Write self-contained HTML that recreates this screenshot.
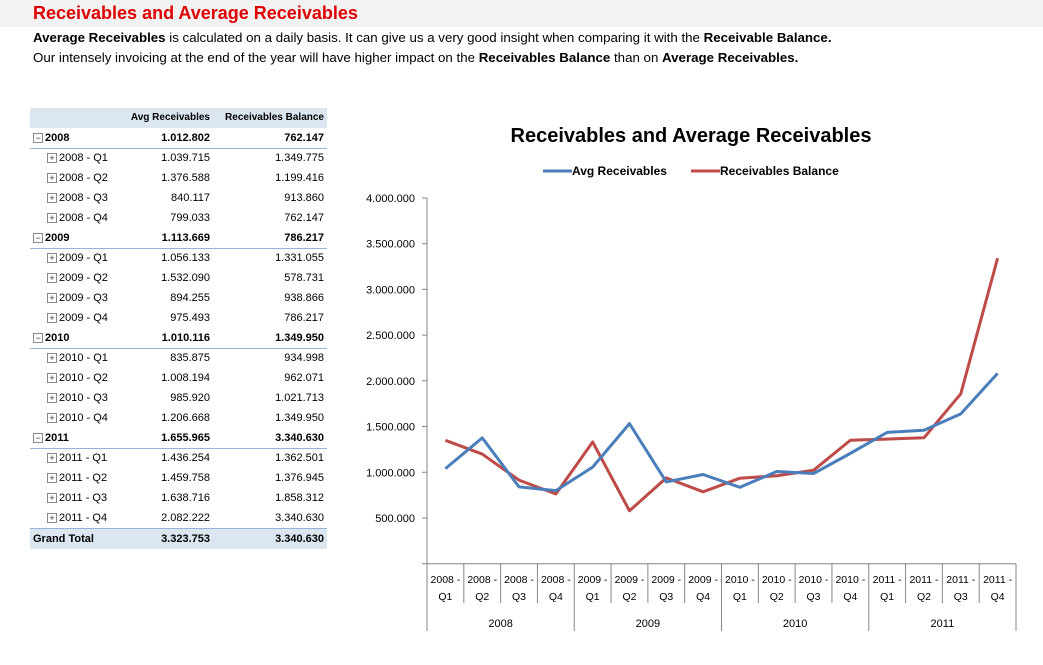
<!DOCTYPE html>
<html><head><meta charset="utf-8"><style>
body{margin:0;width:1043px;height:665px;background:#fff;font-family:"Liberation Sans",sans-serif;position:relative;overflow:hidden}
#band{position:absolute;left:0;top:0;width:1043px;height:27px;background:#f2f2f2}
#title{position:absolute;left:33px;top:3px;color:#e00000;font-weight:bold;font-size:18px}
.desc{position:absolute;left:33px;font-size:13.3px;color:#000;white-space:nowrap}
#tbl{position:absolute;left:30px;top:108px;width:297px;font-size:11px}
.r{position:absolute;left:0;width:297px;height:20px;line-height:20px}
.r>span{position:absolute}
.a{right:117px}.b{right:3px}
.box{display:inline-block;width:8px;height:8px;border:1px solid #888;font-size:9px;line-height:8px;text-align:center;vertical-align:middle;margin-right:2px;color:#333;background:#fff;font-weight:normal}
svg{position:absolute;left:0;top:0}
</style></head><body>
<div id="band"></div>
<div id="title">Receivables and Average Receivables</div>
<div class="desc" style="top:30px"><b>Average Receivables</b> is calculated on a daily basis. It can give us a very good insight when comparing it with the <b>Receivable Balance.</b></div>
<div class="desc" style="top:50px">Our intensely invoicing at the end of the year will have higher impact on the <b>Receivables Balance</b> than on <b>Average Receivables.</b></div>
<div id="tbl"></div>
<svg id="chart" width="1043" height="665"></svg>
<script>
const categories=["2008 - Q1","2008 - Q2","2008 - Q3","2008 - Q4","2009 - Q1","2009 - Q2","2009 - Q3","2009 - Q4","2010 - Q1","2010 - Q2","2010 - Q3","2010 - Q4","2011 - Q1","2011 - Q2","2011 - Q3","2011 - Q4"];
const avgValues=[1039715,1376588,840117,799033,1056133,1532090,894255,975493,835875,1008194,985920,1206668,1436254,1459758,1638716,2082222];
const balValues=[1349775,1199416,913860,762147,1331055,578731,938866,786217,934998,962071,1021713,1349950,1362501,1376945,1858312,3340630];
const years=["2008","2009","2010","2011"];
const yearAvg=[1012802,1113669,1010116,1655965];
const yearBal=[762147,786217,1349950,3340630];
const yTicks=[500000,1000000,1500000,2000000,2500000,3000000,3500000,4000000];
const grandTotal=[3323753,3340630];
function fmt(v){return v.toString().replace(/\B(?=(\d{3})+(?!\d))/g,".");}
const tbl=document.getElementById('tbl');
let y=0;
function row(label,a,b,opts){
  const d=document.createElement('div');d.className='r';d.style.top=y+'px';
  
  
  if(opts.bg)d.style.background=opts.bg;
  if(opts.bold)d.style.fontWeight='bold';
  if(opts.line)d.style.borderBottom='1px solid #95b3d7';
  d.innerHTML='<span style="left:'+(opts.indent||3)+'px">'+label+'</span><span class="a">'+a+'</span><span class="b">'+b+'</span>';
  tbl.appendChild(d);y+=20;
}
row('','Avg Receivables','Receivables Balance',{name:'table-header',bg:'#dce6f1',bold:true});
tbl.lastChild.style.fontSize='10px';
years.forEach((yr,i)=>{
  row('<span class="box">−</span>'+yr,fmt(yearAvg[i]),fmt(yearBal[i]),{name:'year-row-'+yr,bold:true,line:true,click:true});
  for(let q=0;q<4;q++){const k=i*4+q;
    row('<span class="box">+</span>'+categories[k],fmt(avgValues[k]),fmt(balValues[k]),{name:'quarter-row-'+yr+'-q'+(q+1),indent:17,click:true});}
});
row('Grand Total',fmt(grandTotal[0]),fmt(grandTotal[1]),{name:'grand-total-row',bg:'#dce6f1',bold:true});
tbl.lastChild.style.borderTop='1px solid #95b3d7';
const svg=document.getElementById('chart');const NS='http://www.w3.org/2000/svg';
const X0=427,X1=1016,Y0=563.7,PX=91.43/1000000;
const cw=(X1-X0)/categories.length;
const xs=i=>X0+cw*(i+0.5), ys=v=>Y0-v*PX;
function el(t,a,txt){const e=document.createElementNS(NS,t);for(const k in a)e.setAttribute(k,a[k]);if(txt!=null)e.textContent=txt;svg.appendChild(e);return e;}
let e;
e=el('text',{x:691,y:142,'text-anchor':'middle','font-size':20,'font-weight':'bold',fill:'#000'},'Receivables and Average Receivables');


e=el('line',{x1:543,y1:171,x2:572,y2:171,stroke:'#4a7ebb','stroke-width':3});


e=el('text',{x:572,y:175,'font-size':12,'font-weight':'bold'},'Avg Receivables');


e=el('line',{x1:691,y1:171,x2:720,y2:171,stroke:'#be4b48','stroke-width':3});


e=el('text',{x:720,y:175,'font-size':12,'font-weight':'bold'},'Receivables Balance');


e=el('line',{x1:X0,y1:ys(4000000),x2:X0,y2:Y0,stroke:'#868686'});


yTicks.forEach(t=>{
  e=el('line',{x1:X0-5,y1:ys(t),x2:X0,y2:ys(t),stroke:'#868686'});
  
  
  e=el('text',{x:415,y:ys(t)+4,'text-anchor':'end','font-size':11},fmt(t));
  
  
});
e=el('line',{x1:X0-5,y1:Y0,x2:X1,y2:Y0,stroke:'#868686'});


for(let i=0;i<=categories.length;i++){
  const x=X0+cw*i, big=i%4==0;
  e=el('line',{x1:x,y1:Y0,x2:x,y2:big?631:603,stroke:'#868686'});
  
  
}
categories.forEach((c,i)=>{
  const p=c.split(' - ');
  e=el('text',{x:xs(i),y:583,'text-anchor':'middle','font-size':10.5},p[0]+' -');
  
  
  e=el('text',{x:xs(i),y:600,'text-anchor':'middle','font-size':10.5},p[1]);
  
  
});
years.forEach((yr,i)=>{
  e=el('text',{x:X0+cw*(i*4+2),y:627,'text-anchor':'middle','font-size':11},yr);
  
  
});
function line(vals,col,name){
  e=el('polyline',{points:vals.map((v,i)=>xs(i)+','+ys(v)).join(' '),fill:'none',stroke:col,'stroke-width':3,'stroke-linejoin':'round'});
  
  
}
line(balValues,'#be4b48','series-receivables-balance');
line(avgValues,'#4a7ebb','series-avg-receivables');
</script>
</body></html>
